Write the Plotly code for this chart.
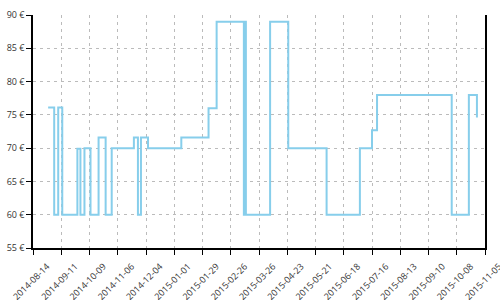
import plotly.graph_objects as go

dates = ["2014-08-29", "2014-09-04", "2014-09-08", "2014-09-12", "2014-09-27",
         "2014-09-30", "2014-10-04", "2014-10-10", "2014-10-18", "2014-10-25",
         "2014-10-31", "2014-11-22", "2014-11-26", "2014-11-29", "2014-12-06",
         "2015-01-08", "2015-02-04", "2015-02-12", "2015-03-11", "2015-03-12",
         "2015-03-13", "2015-04-06", "2015-04-24", "2015-06-01", "2015-07-04",
         "2015-07-16", "2015-07-21", "2015-10-03", "2015-10-20", "2015-10-28"]
prices = [76.1, 60, 76.1, 60, 69.9,
          60, 70, 60, 71.6, 60,
          70, 71.6, 60, 71.6, 70,
          71.6, 76, 89, 60, 89,
          60, 89, 70, 60, 70,
          72.7, 78, 60, 78, 74.6]

tick_dates = ["2014-08-14", "2014-09-11", "2014-10-09", "2014-11-06", "2014-12-04",
              "2015-01-01", "2015-01-29", "2015-02-26", "2015-03-26", "2015-04-23",
              "2015-05-21", "2015-06-18", "2015-07-16", "2015-08-13", "2015-09-10",
              "2015-10-08", "2015-11-05"]
y_ticks = [55, 60, 65, 70, 75, 80, 85, 90]

fig = go.Figure()
fig.add_trace(go.Scatter(x=dates, y=prices, mode="lines",
                         line=dict(shape="hv", color="#87CEEB", width=2)))

font = dict(family="Open Sans", size=9, color="#333")
fig.update_layout(
    width=500, height=300,
    margin=dict(l=33, r=15, t=15, b=52),
    paper_bgcolor="white", plot_bgcolor="white",
    showlegend=False,
    font=font,
)
fig.update_xaxes(
    type="date", range=[tick_dates[0], tick_dates[-1]],
    tickvals=tick_dates, ticktext=tick_dates, tickangle=-45,
    ticklabeloverflow="allow", ticklabelshift=14, ticklabelstandoff=3,
    showline=True, linecolor="black", linewidth=1.5,
    ticks="outside", ticklen=5, tickcolor="black",
    showgrid=True, gridcolor="#bbb", griddash="3px,4px", gridwidth=1,
    zeroline=False, tickfont=font, automargin=False,
)
fig.update_yaxes(
    range=[55, 90], tickvals=y_ticks, ticktext=[f"{v} €" for v in y_ticks],
    showline=True, linecolor="black", linewidth=1.5, mirror=True,
    ticks="outside", ticklen=5, tickcolor="black",
    showgrid=True, gridcolor="#bbb", griddash="3px,4px", gridwidth=1,
    zeroline=False, tickfont=font, automargin=False,
)
fig.write_html("out.html")
